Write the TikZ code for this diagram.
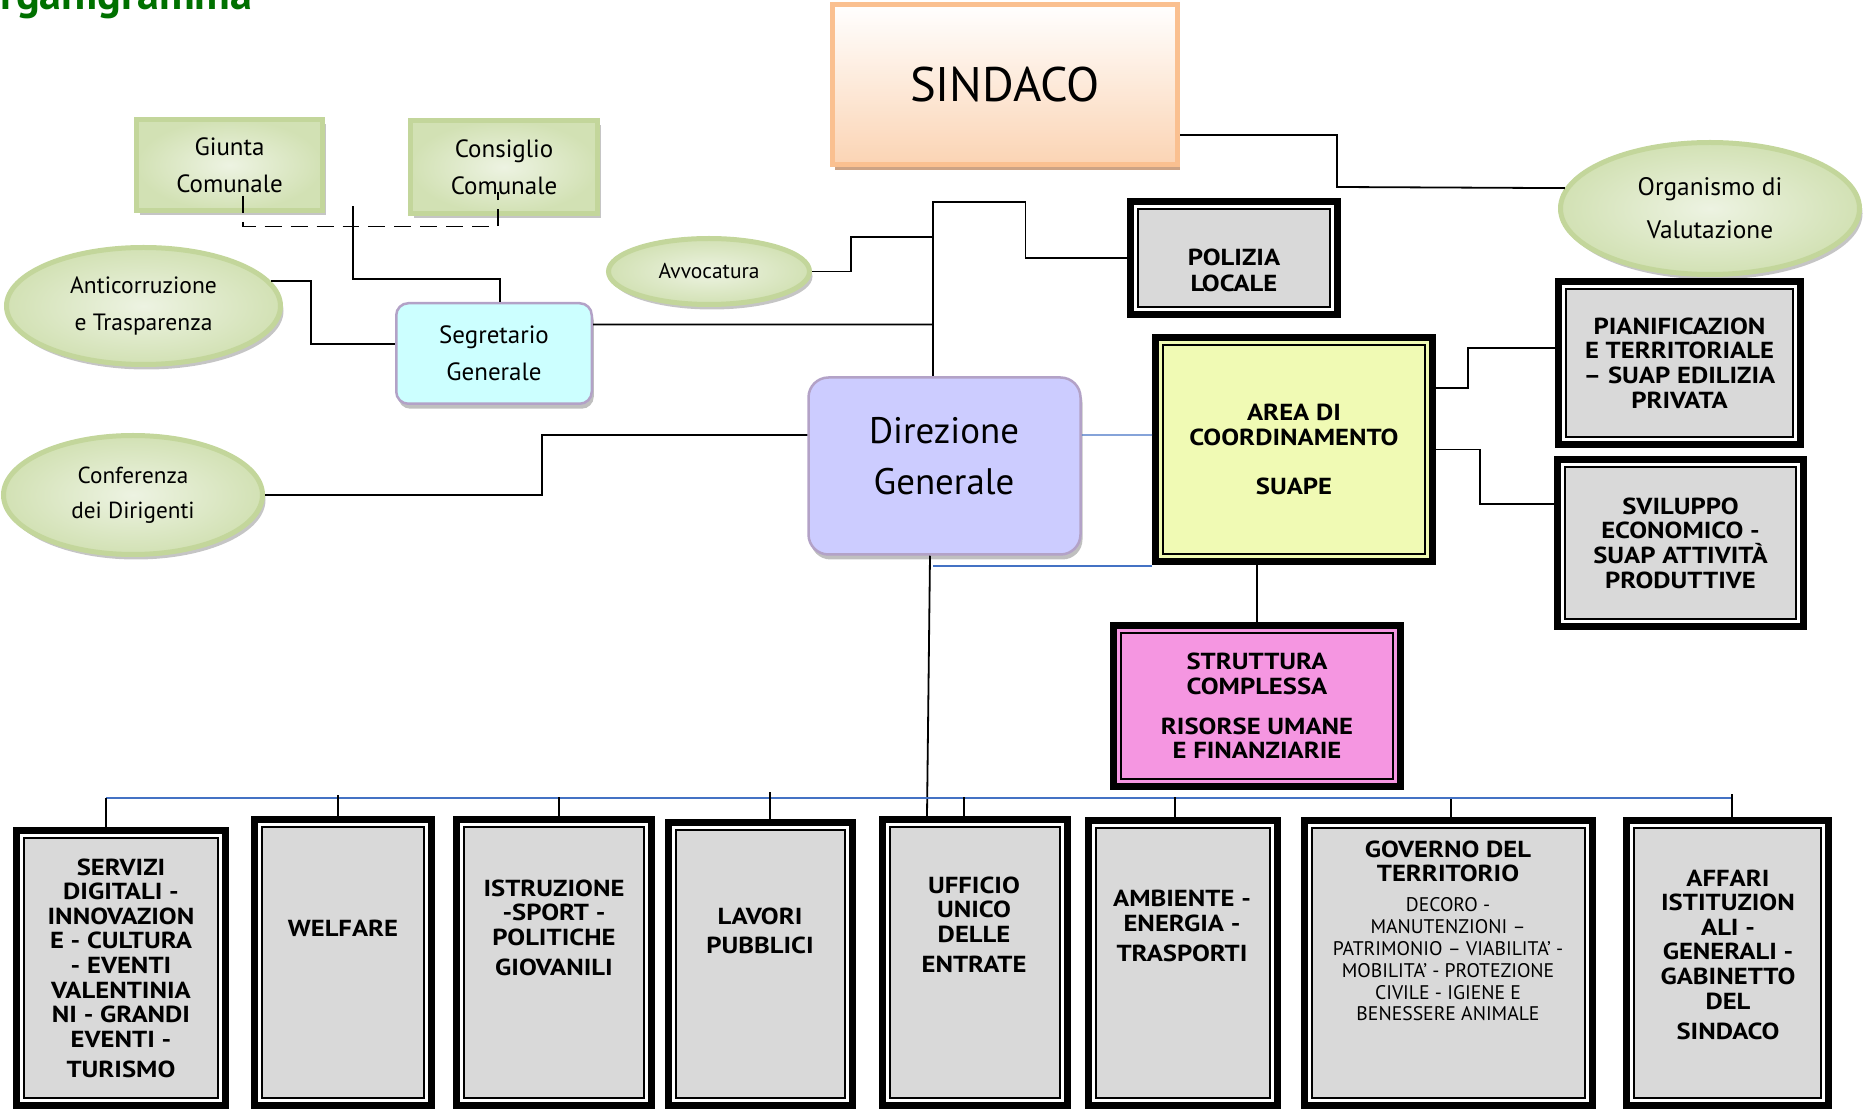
\documentclass[tikz,border=0pt]{standalone}
\usepackage{fontspec}
\setmainfont{PT Sans}
\newfontfamily\unitfont{PT Sans}[FakeStretch=1.15]
\usetikzlibrary{shapes.geometric,shadows}

\definecolor{titlegreen}{RGB}{0,112,0}
\definecolor{sindborder}{RGB}{250,192,144}
\definecolor{sindfill}{RGB}{251,212,180}
\definecolor{sindshadow}{RGB}{204,163,133}
\definecolor{grnborder}{RGB}{195,214,155}
\definecolor{grnfill}{RGB}{210,225,180}
\definecolor{grnlight}{RGB}{237,243,226}
\definecolor{lilac}{RGB}{179,162,199}
\definecolor{segcyan}{RGB}{204,255,255}
\definecolor{dirblue}{RGB}{204,204,255}
\definecolor{areayellow}{RGB}{240,250,180}
\definecolor{strpink}{RGB}{245,150,225}
\definecolor{unitgray}{RGB}{217,217,217}
\definecolor{busblue}{RGB}{68,114,196}

\newcommand{\orgsize}[2]{\fontsize{#1}{#2}\selectfont}

\tikzset{
  conn/.style={draw=black, line width=0.018cm},
  busline/.style={draw=busblue, line width=0.014cm},
  greenshape/.style={draw=grnborder, line width=0.05cm, inner color=grnlight, outer color=grnfill,
    inner sep=0pt, align=center, font=\orgsize{7.1}{10.5},
    drop shadow={shadow xshift=0.03cm, shadow yshift=-0.05cm, fill=black!45, opacity=0.5}},
  greenbox/.style={greenshape, rectangle},
  greenoval/.style={greenshape, ellipse},
  softbox/.style={draw=lilac, line width=0.025cm, rounded corners=0.12cm, inner sep=0pt, align=center,
    drop shadow={shadow xshift=0.02cm, shadow yshift=-0.05cm, fill=black!50, opacity=0.5}},
  framebox/.style={draw=black, line width=0.07cm, inner sep=0pt, align=center,
    font=\unitfont\bfseries\orgsize{6.6}{7},
    path picture={
      \draw[draw=#1, line width=0.03cm] ([shift={(0.05,-0.05)}]path picture bounding box.north west)
        rectangle ([shift={(-0.05,0.05)}]path picture bounding box.south east);
      \draw[line width=0.02cm] ([shift={(0.075,-0.075)}]path picture bounding box.north west)
        rectangle ([shift={(-0.075,0.075)}]path picture bounding box.south east);
    }},
  unitbox/.style={framebox=white, fill=unitgray},
  unittext/.style={align=center, inner sep=0pt, font=\unitfont\bfseries\orgsize{6.6}{7}},
}

\begin{document}
\begin{tikzpicture}
\useasboundingbox (0,0) rectangle (18.67,-11.12);

% titolo
\node (title) [anchor=base west, inner sep=0pt, text=titlegreen, font=\bfseries\orgsize{12.6}{13}] at (0,-0.10) {\llap{O}rganigramma};

% organi politici
\node (sindaco) [draw=sindborder, line width=0.05cm, top color=white, bottom color=sindfill,
  minimum width=3.45cm, minimum height=1.60cm, font=\orgsize{13.8}{15},
  drop shadow={shadow xshift=0.02cm, shadow yshift=-0.06cm, fill=sindshadow, opacity=1}] at (10.05,-0.845) {SINDACO};
\node (giunta) [greenbox, minimum width=1.86cm, minimum height=0.91cm] at (2.295,-1.65) {Giunta\\Comunale};
\node (consiglio) [greenbox, minimum width=1.87cm, minimum height=0.93cm] at (5.04,-1.67) {Consiglio\\Comunale};
\node (anticorr) [greenoval, minimum width=2.74cm, minimum height=1.17cm, font=\orgsize{6.7}{10.8}] at (1.435,-3.06) {Anticorruzione\\e Trasparenza};
\node (avvocatura) [greenoval, minimum width=2.01cm, minimum height=0.66cm, font=\orgsize{6.1}{7}] at (7.09,-2.715) {Avvocatura};
\node (organismo) [greenoval, minimum width=2.99cm, minimum height=1.32cm, font=\orgsize{7.2}{12.2}] at (17.10,-2.085) {Organismo di\\Valutazione};
\node (conferenza) [greenoval, minimum width=2.59cm, minimum height=1.19cm, font=\orgsize{6.6}{10}] at (1.33,-4.95) {Conferenza\\dei Dirigenti};

% direzione
\node (segretario) [softbox, fill=segcyan, minimum width=1.955cm, minimum height=1.005cm, font=\orgsize{7.1}{10.5}] at (4.94,-3.535) {Segretario\\Generale};
\node (direzione) [softbox, fill=dirblue, rounded corners=0.2cm, minimum width=2.72cm, minimum height=1.77cm] at (9.445,-4.66) {};
\node (direzione-t) [align=center, inner sep=0pt, font=\orgsize{10.5}{14.5}] at (9.44,-4.565) {Direzione\\Generale};

\node (polizia) [unitbox, minimum width=2.07cm, minimum height=1.13cm] at (12.34,-2.58) {};
\node (polizia-t) [unittext, font=\unitfont\bfseries\orgsize{6.6}{7.4}] at (12.34,-2.70) {POLIZIA\\LOCALE};
\node (area) [framebox=areayellow, fill=areayellow, minimum width=2.77cm, minimum height=2.24cm] at (12.94,-4.495) {AREA DI\\COORDINAMENTO\\[7pt]SUAPE};
\node (struttura) [framebox=strpink, fill=strpink, minimum width=2.87cm, minimum height=1.61cm] at (12.57,-7.06) {STRUTTURA\\COMPLESSA\\[4.3pt]RISORSE UMANE\\E FINANZIARIE};
\node (pianificazione) [unitbox, minimum width=2.42cm, minimum height=1.63cm] at (16.795,-3.63) {PIANIFICAZION\\E TERRITORIALE\\– SUAP EDILIZIA\\PRIVATA};
\node (sviluppo) [unitbox, minimum width=2.46cm, minimum height=1.67cm] at (16.805,-5.43) {SVILUPPO\\ECONOMICO -\\SUAP ATTIVITÀ\\PRODUTTIVE};

% settori
\node (servizi) [unitbox, minimum width=2.09cm, minimum height=2.75cm] at (1.21,-9.68) {SERVIZI\\DIGITALI -\\INNOVAZION\\E - CULTURA\\- EVENTI\\VALENTINIA\\NI - GRANDI\\EVENTI -\\[1.5pt]TURISMO};
\node (welfare) [unitbox, minimum width=1.77cm, minimum height=2.86cm] at (3.43,-9.625) {};
\node (welfare-t) [unittext] at (3.43,-9.28) {WELFARE};
\node (istruzione) [unitbox, minimum width=1.95cm, minimum height=2.86cm] at (5.54,-9.625) {};
\node (istruzione-t) [unittext] at (5.54,-9.275) {ISTRUZIONE\\-SPORT -\\POLITICHE\\[1.5pt]GIOVANILI};
\node (lavori) [unitbox, minimum width=1.84cm, minimum height=2.83cm] at (7.605,-9.64) {};
\node (lavori-t) [unittext] at (7.60,-9.305) {LAVORI\\[1.2pt]PUBBLICI};
\node (ufficio) [unitbox, minimum width=1.85cm, minimum height=2.86cm] at (9.75,-9.625) {};
\node (ufficio-t) [unittext] at (9.74,-9.245) {UFFICIO\\UNICO\\DELLE\\[1.5pt]ENTRATE};
\node (ambiente) [unitbox, minimum width=1.89cm, minimum height=2.85cm] at (11.83,-9.63) {};
\node (ambiente-t) [unittext] at (11.82,-9.26) {AMBIENTE -\\ENERGIA -\\[1.5pt]TRASPORTI};
\node (governo) [unitbox, minimum width=2.88cm, minimum height=2.85cm] at (14.485,-9.63) {};
\node (governo-t) [unittext] at (14.48,-8.615) {GOVERNO DEL\\TERRITORIO};
\node (governo-d) [align=center, inner sep=0pt, font=\orgsize{5.6}{6.2}] at (14.48,-9.595) {DECORO -\\MANUTENZIONI –\\PATRIMONIO – VIABILITA' -\\MOBILITA' - PROTEZIONE\\CIVILE - IGIENE E\\BENESSERE ANIMALE};
\node (affari) [unitbox, minimum width=2.02cm, minimum height=2.85cm] at (17.275,-9.63) {};
\node (affari-t) [unittext] at (17.28,-9.545) {AFFARI\\ISTITUZION\\ALI -\\GENERALI -\\GABINETTO\\DEL\\[1.5pt]SINDACO};

% collegamenti
\coordinate (trunk-top) at (9.33,-2.02);
\draw[conn] ([yshift=-0.505cm]sindaco.east) -| (13.37,-1.87) -- (organismo.172);
\draw[conn, dash pattern=on 0.17cm off 0.09cm] ([shift={(0.135,0.17)}]giunta.south) |- ([shift={(-0.06,-0.105)}]consiglio.south) -- ([shift={(-0.06,0.235)}]consiglio.south);
\draw[conn] (segretario.north -| 5.00,0) |- (3.53,-2.79) -- (3.53,-2.06);
\draw[conn] (anticorr.11) -| (3.11,-3.44) -- (segretario.west |- 0,-3.44);
\draw[conn] (direzione.north -| trunk-top) -- (trunk-top) -| ([xshift=-1.015cm]polizia.west) -- (polizia.west);
\draw[conn] (avvocatura.east) -| (8.51,-2.37) -- (trunk-top |- 0,-2.37);
\draw[conn] ([yshift=0.29cm]segretario.east) -- (trunk-top |- 0,-3.245);
\draw[conn] (conferenza.east) -| (5.42,-4.35) -- ([yshift=0.31cm]direzione.west);
\draw[busline] ([yshift=0.31cm]direzione.east) -- (area.west |- 0,-4.35);
\draw[busline] (9.33,-5.66) -- (area.west |- 0,-5.66);
\draw[conn] (area.south -| struttura.north) -- (struttura.north);
\draw[conn] ([yshift=0.615cm]area.east) -| (14.68,-3.48) -- (pianificazione.west |- 0,-3.48);
\draw[conn] (area.east) -| (14.80,-5.04) -- (sviluppo.west |- 0,-5.04);
\draw[conn] ([xshift=-0.145cm]direzione.south) -- (ufficio.north -| 9.27,0);

\coordinate (bus-w) at (1.06,-7.98);
\coordinate (bus-e) at (17.32,-7.98);
\draw[busline] (bus-w) -- (bus-e);
\draw[conn] (servizi.north -| bus-w) -- (bus-w);
\draw[conn] (welfare.north -| 3.38,0) -- (3.38,-7.95);
\draw[conn] (istruzione.north -| 5.59,0) -- (5.59,-7.97);
\draw[conn] (lavori.north -| 7.70,0) -- (7.70,-7.92);
\draw[conn] (ufficio.north -| 9.64,0) -- (9.64,-7.97);
\draw[conn] (ambiente.north -| 11.75,0) -- (11.75,-7.97);
\draw[conn] (governo.north -| 14.51,0) -- (14.51,-7.99);
\draw[conn] (affari.north -| bus-e) -- (17.32,-7.94);
\end{tikzpicture}
\end{document}
